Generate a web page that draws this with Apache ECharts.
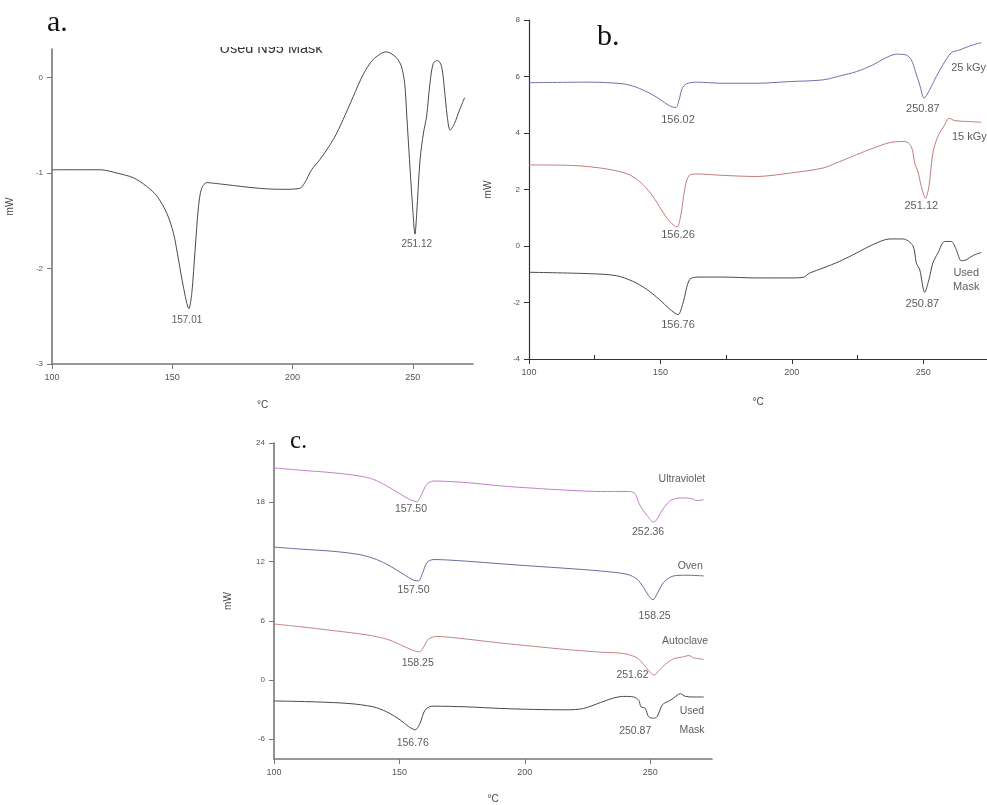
<!DOCTYPE html>
<html>
<head>
<meta charset="utf-8">
<title>DSC curves</title>
<script src="https://cdn.jsdelivr.net/npm/echarts@6/dist/echarts.min.js"></script>
<style>
    html, body { margin: 0; padding: 0; background: #fff; }
    #chart { width: 987px; height: 805px; }
</style>
</head>
<body>
<div id="chart"></div>
<script>
/*
* 数据: [温度 °C, 热流 mW]
*/
// a. Used N95 Mask
const aUsedMask = [[100,-0.965],[120,-0.965],[127,-1.0],[133.9,-1.05],[139.4,-1.14],[143.6,-1.24],[147.7,-1.42],[150.5,-1.63],[152.6,-1.91],[154.6,-2.19],[156.9,-2.42],[158.1,-2.26],[159.5,-1.80],[160.9,-1.35],[162.2,-1.16],[164.3,-1.10],[168.5,-1.11],[175.4,-1.13],[182.3,-1.15],[189.2,-1.165],[196.1,-1.17],[203,-1.16],[205.1,-1.10],[207.9,-0.965],[211.3,-0.86],[216.9,-0.65],[221,-0.44],[225.2,-0.20],[229.3,0.03],[233.5,0.19],[239,0.27],[243.1,0.21],[245.2,0.12],[246.6,-0.06],[247.5,-0.41],[248.6,-0.86],[249.7,-1.28],[250.9,-1.64],[251.6,-1.42],[253,-0.86],[254.4,-0.58],[255.7,-0.41],[257.1,-0.06],[258.5,0.15],[260.3,0.18],[261.9,0.12],[263,-0.09],[264.3,-0.41],[265.5,-0.55],[267.3,-0.48],[269.4,-0.34],[271.5,-0.21]];

// b. 25 kGy / 15 kGy / Used Mask
const b25kGy = [[100,5.78],[123.1,5.80],[135.8,5.74],[140.8,5.62],[145.9,5.41],[149.7,5.20],[153.5,4.96],[155.9,4.90],[157.1,5.17],[158.3,5.58],[159.9,5.74],[163.7,5.80],[173.8,5.76],[186.5,5.76],[199.2,5.82],[211.9,5.88],[218.3,6.02],[224.6,6.17],[230.9,6.41],[234.7,6.61],[239.8,6.79],[243.6,6.76],[245.5,6.59],[247.1,6.17],[248.7,5.70],[250.4,5.23],[251.4,5.35],[253.1,5.64],[255,6.0],[257.5,6.41],[260.7,6.84],[263.9,6.94],[267.7,7.08],[272.1,7.20]];
const b15kGy = [[100,2.87],[116.7,2.85],[129.4,2.73],[138.3,2.52],[143.4,2.17],[147.2,1.75],[150.4,1.28],[153.5,0.87],[156.3,0.67],[157.9,1.16],[159.2,1.99],[160.9,2.50],[163.7,2.55],[173.8,2.50],[186.5,2.46],[199.2,2.58],[211.9,2.76],[218.3,2.99],[224.6,3.23],[230.9,3.46],[237.3,3.66],[243,3.70],[245.5,3.52],[246.8,2.93],[248,2.64],[249.3,2.11],[250.9,1.69],[252.2,2.11],[253.7,3.29],[255.6,3.88],[258.2,4.29],[259.8,4.52],[262,4.44],[266.4,4.41],[272.1,4.38]];
const bUsedMask = [[100,-0.93],[123.1,-0.98],[133.2,-1.05],[139.5,-1.25],[144.6,-1.52],[149.7,-1.90],[153.5,-2.23],[156.7,-2.43],[158.6,-2.02],[161.1,-1.19],[164.3,-1.10],[173.8,-1.10],[186.5,-1.13],[199.2,-1.13],[204.3,-1.11],[206.8,-0.96],[211.9,-0.78],[218.3,-0.54],[224.6,-0.25],[230.9,0.05],[237.3,0.25],[242.3,0.25],[246.1,0.01],[247.4,-0.60],[248.7,-0.84],[250.6,-1.64],[252.2,-1.19],[253.7,-0.60],[255.6,-0.25],[258.2,0.16],[260.7,0.16],[262.6,-0.13],[264.5,-0.52],[266.4,-0.49],[268.9,-0.34],[272.1,-0.23]];

// c. Ultraviolet / Oven / Autoclave / Used Mask
const cUltraviolet = [[100,21.48],[110.4,21.25],[123.7,20.98],[134.3,20.65],[139.6,20.32],[144.9,19.66],[150.3,18.83],[154.3,18.26],[156.9,18.06],[158.9,18.83],[160.9,19.82],[163.6,20.15],[176.9,19.99],[190.2,19.66],[203.5,19.42],[216.8,19.22],[230.1,19.09],[242,19.09],[244,18.83],[245.3,18.0],[246.7,17.34],[248.7,16.67],[251.2,16.0],[252.4,16.17],[254.7,17.17],[258,18.16],[262,18.43],[266,18.40],[268.6,18.16],[271.3,18.26]];
const cOven = [[100,13.46],[110.4,13.26],[123.7,13.03],[134.3,12.69],[140.9,12.20],[146.3,11.53],[151.6,10.71],[155.6,10.11],[157.6,10.04],[159.3,10.87],[160.9,11.87],[163.6,12.20],[176.9,12.03],[190.2,11.77],[203.5,11.53],[216.8,11.30],[230.1,11.04],[240.7,10.71],[244.7,10.21],[247.3,9.38],[249.3,8.55],[251.1,8.12],[252.7,8.72],[255.3,9.88],[259.3,10.54],[264.6,10.61],[271.3,10.54]];
const cAutoclave = [[100,5.67],[110.4,5.40],[123.7,5.0],[137,4.57],[144.9,4.14],[150.3,3.58],[155.6,2.98],[158,2.85],[159.8,3.41],[161.6,4.14],[164.9,4.41],[176.9,4.14],[190.2,3.75],[203.5,3.41],[216.8,3.08],[230.1,2.82],[239.4,2.68],[244.7,2.25],[247.3,1.59],[250,0.76],[251.6,0.50],[253.3,0.93],[256,1.59],[259.3,2.15],[263.3,2.35],[265.3,2.49],[267.3,2.25],[271.3,2.09]];
const cUsedMask = [[100,-2.12],[117,-2.22],[130.3,-2.39],[139.6,-2.72],[144.9,-3.22],[150.3,-4.04],[153.6,-4.71],[156.3,-5.04],[158.2,-4.38],[160.2,-3.05],[162.9,-2.65],[176.9,-2.72],[190.2,-2.88],[203.5,-2.98],[216.8,-3.02],[223.4,-2.88],[230.1,-2.29],[235.4,-1.82],[239.4,-1.66],[243.4,-1.72],[245.4,-2.06],[246.3,-2.72],[248,-2.88],[249.3,-3.71],[251.3,-3.88],[252.7,-3.71],[254.7,-2.55],[256,-2.29],[257.3,-2.15],[259.3,-1.82],[262,-1.39],[264,-1.66],[267.3,-1.72],[271.3,-1.72]];

// 标注文字: [温度, mW, 文本]
const aNotes = [[156.1,-2.54,'157.01'],[251.6,-1.75,'251.12']];
const bNotes = [[156.7,4.46,'156.02'],[249.9,4.84,'250.87'],[267.3,6.29,'25 kGy'],
    [156.7,0.39,'156.26'],[249.3,1.43,'251.12'],[267.6,3.85,'15 kGy'],
    [156.7,-2.79,'156.76'],[249.7,-2.05,'250.87'],[266.4,-1.20,'Used\nMask']];
const cNotes = [[262.6,20.33,'Ultraviolet'],[154.6,17.34,'157.50'],[249.1,15.02,'252.36'],
    [265.9,11.54,'Oven'],[155.6,9.15,'157.50'],[251.7,6.50,'158.25'],
    [263.9,3.98,'Autoclave'],[157.3,1.69,'158.25'],[242.9,0.50,'251.62'],
    [266.6,-3.15,'Used'],[266.6,-5.04,'Mask'],[155.3,-6.37,'156.76'],[244.0,-5.14,'250.87']];

// 刻度
const tempTicks = [100, 150, 200, 250];
const bMinorTicks = [125, 175, 225];
const aMwTicks = [-3, -2, -1, 0];
const bMwTicks = [-4, -2, 0, 2, 4, 6, 8];
const cMwTicks = [-6, 0, 6, 12, 18, 24];

const FONT = '"Liberation Sans", Arial, sans-serif';
const chart = echarts.init(document.getElementById('chart'));

function xAxisOf(grid, max, lineColor, lineWidth, gap) {
    return {
        type: 'value', gridIndex: grid, position: 'bottom', min: 100, max: max,
        name: '°C', nameLocation: 'middle', nameGap: gap,
        nameTextStyle: { color: '#444', fontSize: 10, fontFamily: FONT },
        axisLine: { onZero: false, lineStyle: { color: lineColor, width: lineWidth } },
        axisTick: { length: 5, customValues: tempTicks, lineStyle: { color: lineColor } },
        axisLabel: { customValues: tempTicks, color: '#555', fontSize: 9, fontFamily: FONT, margin: 9 },
        splitLine: { show: false }
    };
}
function yAxisOf(grid, min, max, ticks, lineColor, lineWidth, gap) {
    return {
        type: 'value', gridIndex: grid, position: 'left', min: min, max: max,
        name: 'mW', nameLocation: 'middle', nameGap: gap,
        nameTextStyle: { color: '#444', fontSize: 10, fontFamily: FONT },
        axisLine: { show: true, onZero: false, lineStyle: { color: lineColor, width: lineWidth } },
        axisTick: { show: true, length: 5, customValues: ticks, lineStyle: { color: lineColor } },
        axisLabel: { customValues: ticks, color: '#555', fontSize: 8, fontFamily: FONT, margin: 9 },
        splitLine: { show: false }
    };
}
function curve(data, color, xi) {
    return {
        type: 'line', xAxisIndex: xi, yAxisIndex: xi, data: data,
        showSymbol: false, smooth: 0.3, silent: true,
        lineStyle: { color: color, width: 1 }
    };
}
function notes(list, xi, size) {
    return {
        type: 'scatter', xAxisIndex: xi, yAxisIndex: xi, silent: true,
        symbolSize: 1, itemStyle: { color: 'rgba(0,0,0,0)' },
        data: list.map(n => ({ value: [n[0], n[1]], name: n[2] })),
        label: {
            show: true, position: 'inside', formatter: p => p.name,
            color: '#333', fontSize: size, fontFamily: FONT, lineHeight: size + 3
        }
    };
}

// b 图横轴朝内的小刻度
const bXMinor = xAxisOf(1, 274.3, '#333', 1.2, 38);
Object.assign(bXMinor, {
    name: '', offset: 0, axisLine: { show: false, onZero: false }, axisLabel: { show: false },
    axisTick: { inside: true, length: 4, customValues: bMinorTicks, lineStyle: { color: '#333' } }
});

const option = {
    backgroundColor: '#fff',
    animation: false,
    grid: [
        { left: 52, top: 49, width: 421, height: 315 },
        { left: 529, top: 20, width: 458, height: 339 },
        { left: 274, top: 443, width: 438, height: 322 }
    ],
    xAxis: [
        xAxisOf(0, 275, '#777', 1.6, 36),
        xAxisOf(1, 274.3, '#333', 1.2, 38),
        xAxisOf(2, 274.6, '#777', 1.6, 35),
        bXMinor
    ],
    yAxis: [
        yAxisOf(0, -3, 0.3, aMwTicks, '#777', 1.6, 37),
        yAxisOf(1, -4, 8, bMwTicks, '#333', 1.2, 36),
        yAxisOf(2, -8, 24, cMwTicks, '#777', 1.6, 41),
        { type: 'value', gridIndex: 1, min: -4, max: 8, show: false }
    ],
    series: [
        curve(aUsedMask, '#4a4a4a', 0),
        curve(b25kGy, '#6e73aa', 1),
        curve(b15kGy, '#c27d7d', 1),
        curve(bUsedMask, '#4a4a4a', 1),
        curve(cUltraviolet, '#c47fcb', 2),
        curve(cOven, '#666c9e', 2),
        curve(cAutoclave, '#c58484', 2),
        curve(cUsedMask, '#4a4a4a', 2),
        notes(aNotes, 0, 10),
        notes(bNotes, 1, 11),
        notes(cNotes, 2, 10.5)
    ],
    graphic: [
        // 被裁掉一半的标题
        { type: 'text', x: 271, y: 56, style: { text: 'Used N95 Mask', font: '14.5px ' + FONT, fill: '#333', align: 'center', verticalAlign: 'bottom' } },
        { type: 'rect', shape: { x: 200, y: 20, width: 140, height: 27 }, style: { fill: '#fff' } },
        // c 图纵轴顶端的空缺
        { type: 'rect', shape: { x: 272.6, y: 440, width: 3, height: 24 }, style: { fill: '#fff' } },
        { type: 'text', x: 47, y: 38, style: { text: 'a.', font: '30px "Liberation Serif", serif', fill: '#111', verticalAlign: 'bottom' } },
        { type: 'text', x: 597, y: 52, style: { text: 'b.', font: '30px "Liberation Serif", serif', fill: '#111', verticalAlign: 'bottom' } },
        { type: 'text', x: 290, y: 454, style: { text: 'c.', font: '25px "Liberation Serif", serif', fill: '#111', verticalAlign: 'bottom' } }
    ]
};
chart.setOption(option);
window.addEventListener('resize', chart.resize);
</script>
</body>
</html>
